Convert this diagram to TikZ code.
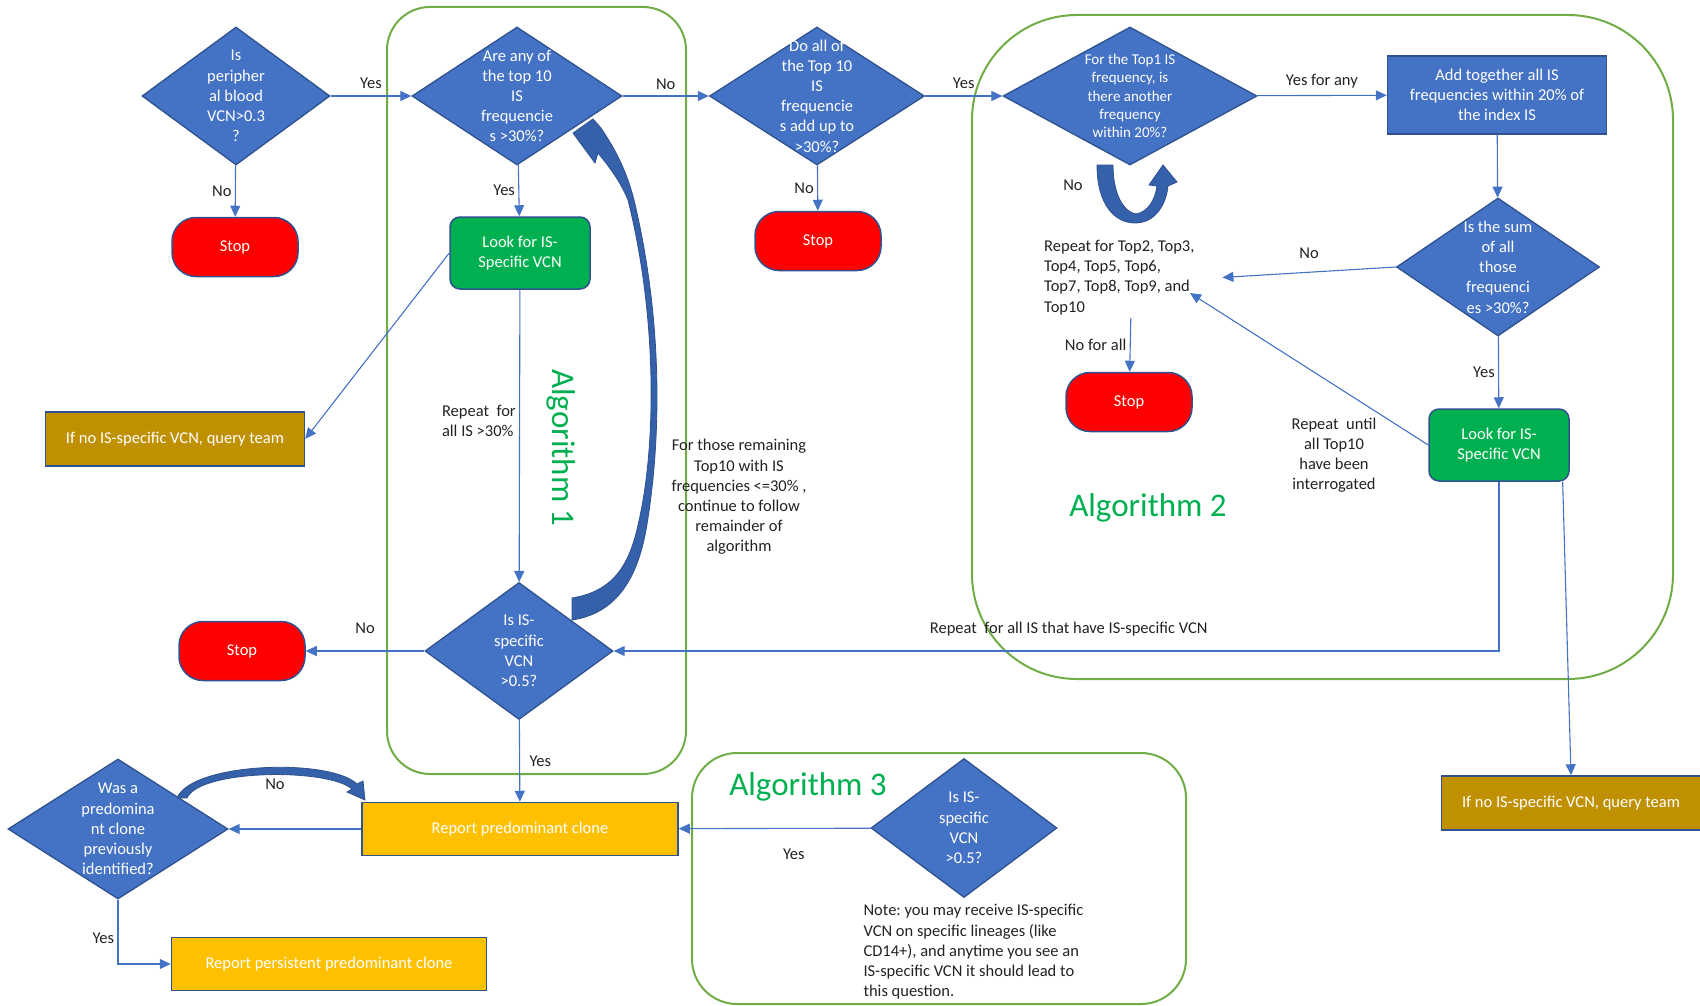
\documentclass[tikz,border=0pt]{standalone}
\usepackage{fontspec}
\setmainfont{Carlito}
\usetikzlibrary{shapes,arrows,arrows.meta}
\frenchspacing

\definecolor{dblue}{HTML}{4472C4}
\definecolor{bdr}{HTML}{2F528F}
\definecolor{stopred}{HTML}{FF0000}
\definecolor{lookgreen}{HTML}{00B050}
\definecolor{qbrown}{HTML}{BF9000}
\definecolor{gold}{HTML}{FFC000}
\definecolor{grpgreen}{HTML}{70AD47}
\definecolor{algtext}{HTML}{00B050}
\definecolor{arcblue}{HTML}{3560AA}
\definecolor{lbl}{HTML}{222222}

\begin{document}
\begin{tikzpicture}[->,>={Triangle[length=11pt,width=10pt]},x=1pt,y=-1pt,
    every node/.style={font=\fontsize{16.5}{20.2}\selectfont,text=lbl},
    every edge/.style={draw=dblue,line width=1.1pt}]
\tikzstyle{decision}=[diamond,draw=bdr,fill=dblue,inner sep=0pt,line width=1.3pt]
\tikzstyle{dtext}=[text=white,align=center]
\tikzstyle{stopbox}=[rectangle,rounded corners=24pt,draw=bdr,fill=stopred,text=white,minimum width=126pt,minimum height=59pt,line width=1.5pt]
\tikzstyle{lookbox}=[rectangle,rounded corners=10pt,draw=bdr,fill=lookgreen,text=white,align=center,minimum width=140pt,minimum height=72pt,line width=1.5pt]
\tikzstyle{querybox}=[rectangle,draw=bdr,fill=qbrown,text=white,minimum width=259pt,minimum height=54pt,line width=1.5pt]
\tikzstyle{reportbox}=[rectangle,draw=bdr,fill=gold,text=white,minimum height=53pt,line width=1.5pt]
\tikzstyle{algbox}=[-,draw=grpgreen,line width=2pt]
\tikzstyle{algname}=[text=algtext,font=\fontsize{33}{40}\selectfont]
\tikzstyle{conn}=[->,draw=dblue,line width=1.1pt]
\tikzstyle{blockarrow}=[-,fill=arcblue,draw=bdr,line width=0.8pt]

\useasboundingbox (0,0) rectangle (1700,1006);

% the three algorithm frames
\draw[algbox,rounded corners=43pt] (387,7) rectangle (686,774);
\draw[algbox,rounded corners=105pt] (972,15) rectangle (1673,679);
\draw[algbox,rounded corners=45pt] (692,753) rectangle (1186,1004);

% top row
\node[decision,minimum width=188pt,minimum height=138pt,label={[dtext]center:Is\\peripher\\al blood\\VCN>0.3\\?}] (d1) at (236,96) {};
\node[decision,minimum width=210pt,minimum height=138pt,label={[dtext]center:Are any of\\the top 10\\IS\\frequencie\\s >30\%?}] (d2) at (517,96) {};
\node[decision,minimum width=215pt,minimum height=138pt,label={[dtext]center:Do all of\\the Top 10\\IS\\frequencie\\s add up to\\>30\%?}] (d3) at (817,96) {};
\node[decision,minimum width=254pt,minimum height=138pt,label={[dtext,font=\fontsize{15}{18.2}\selectfont]center:For the Top1 IS\\frequency, is\\there another\\frequency\\within 20\%?}] (d4) at (1130,96) {};
\node[rectangle,draw=bdr,fill=dblue,text=white,align=center,minimum width=219pt,minimum height=78pt,line width=1.5pt] (addis) at (1497,95) {Add together all IS\\frequencies within 20\% of\\the index IS};

% second row
\node[stopbox] (stop1) at (235,247) {Stop};
\node[lookbox] (look1) at (520,253) {Look for IS-\\Specific VCN};
\node[stopbox] (stop2) at (818,241) {Stop};
\node[decision,minimum width=203pt,minimum height=138pt,label={[dtext]center:Is the sum\\of all\\those\\frequenci\\es >30\%?}] (d5) at (1498,267) {};
\node[align=flush left,text width=175pt,anchor=north west,inner sep=3pt] (rep) at (1041,237) {Repeat for Top2, Top3,\\Top4, Top5, Top6,\\Top7, Top8, Top9, and\\Top10};
\node[stopbox] (stop3) at (1129,402) {Stop};
\node[lookbox] (look2) at (1499,445) {Look for IS-\\Specific VCN};
\node[querybox] (query1) at (175,439) {If no IS-specific VCN, query team};

% lower part
\node[decision,minimum width=188pt,minimum height=137pt,label={[dtext]center:Is IS-\\specific\\VCN\\>0.5?}] (d6) at (519,651) {};
\node[stopbox] (stop4) at (242,651) {Stop};
\node[reportbox,minimum width=316pt] (report) at (520,829) {Report predominant clone};
\node[decision,minimum width=186pt,minimum height=139pt,label={[dtext]center:Is IS-\\specific\\VCN\\>0.5?}] (d7) at (964,828) {};
\node[decision,minimum width=220pt,minimum height=140pt,label={[dtext]center:Was a\\predomina\\nt clone\\previously\\identified?}] (d8) at (118,829) {};
\node[reportbox,minimum width=315pt] (persist) at (329,964) {Report persistent predominant clone};
\node[querybox] (query2) at (1571,803) {If no IS-specific VCN, query team};

% free texts
\node[algname,rotate=-90] (alg1) at (561,448) {Algorithm 1};
\node[algname] (alg2) at (1148,508) {Algorithm 2};
\node[algname] (alg3) at (808,787) {Algorithm 3};
\node[align=center] (remain) at (739,497) {For those remaining\\Top10 with IS\\frequencies <=30\% ,\\continue to follow\\remainder of\\algorithm};
\node[align=center] (until) at (1334,455) {Repeat\ \ until\\all Top10\\have been\\interrogated};
\node[align=left,anchor=north west] (note) at (860,901) {Note: you may receive IS-specific\\VCN on specific lineages (like\\CD14+), and anytime you see an\\IS-specific VCN it should lead to\\this question.};
\node (uno) at (1073,185) {No};
\node (arcno) at (275,784) {No};
\coordinate (repin) at (1190,293);

\path (d1) edge node[above,yshift=3pt]{Yes} (d2)
      (d1) edge node[left]{No} (stop1)
      (d2) edge node[above,yshift=3pt]{No} (d3)
      (d2) edge node[left]{Yes} (look1)
      (d3) edge node[above,yshift=3pt]{Yes} (d4)
      (d3) edge node[left]{No} (stop2)
      (d4) edge node[above,yshift=3pt]{Yes for any} (addis)
      (addis) edge (d5)
      (d5) edge node[left]{Yes} (look2)
      (d5.west) edge node[above,yshift=10pt]{No} (rep.east)
      (look2.west) edge (repin)
      (rep) edge node[left]{No for all} (stop3)
      (look1) edge node[left,align=left,pos=0.45]{Repeat\ \ for\\all IS >30\%} (d6)
      (look1.west) edge (query1.east)
      (d6) edge node[above,yshift=14pt]{No} (stop4)
      (d6) edge node[right,xshift=6pt]{Yes} (report)
      (d7) edge node[below,pos=0.4,yshift=-17pt]{Yes} (report)
      (report) edge (d8)
      (look2.-30) edge (query2.north);
\draw[conn] (look2.south) |- node[pos=0.743,above,yshift=11pt]{Repeat\ \ for all IS that have IS-specific VCN} (d6.east);
\draw[conn] (d8.south) |- node[pos=0.3,left]{Yes} (persist.west);

% block arrows
\filldraw[blockarrow] (572,620) .. controls (612,614) and (636,585) .. (646,530)
   .. controls (660,450) and (665,330) .. (634,200)
   .. controls (625,165) and (612,145) .. (601,128)
   -- (593,119) -- (573,133) -- (595,163) -- (598,153)
   .. controls (612,170) and (622,185) .. (628,200)
   .. controls (658,320) and (656,450) .. (638,525)
   .. controls (628,572) and (608,592) .. (572,598) -- cycle;
\filldraw[blockarrow] (1097,165) .. controls (1097,205) and (1115,223) .. (1135,223)
   .. controls (1155,223) and (1166,205) .. (1168,186) -- (1177,182) -- (1163,165) -- (1149,185) -- (1157,186)
   .. controls (1155,200) and (1148,212) .. (1136,214)
   .. controls (1124,212) and (1113,195) .. (1113,165) -- cycle;
\filldraw[blockarrow] (177,798) .. controls (192,762) and (330,758) .. (357,784) -- (363,781) -- (365,800) -- (347,792) -- (352,789)
   .. controls (328,768) and (200,769) .. (187,798) -- cycle;
\end{tikzpicture}
\end{document}
